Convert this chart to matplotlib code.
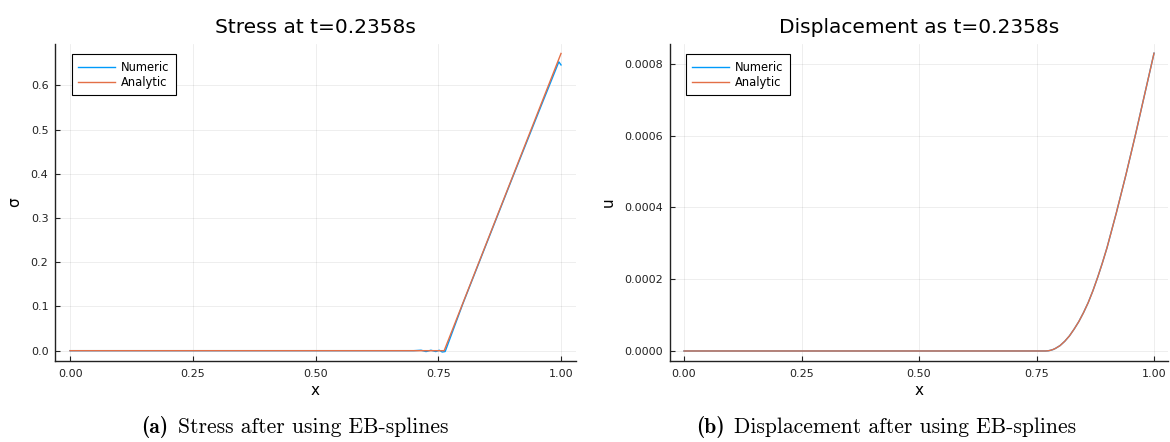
import matplotlib
matplotlib.use("Agg")
import matplotlib.pyplot as plt
from matplotlib.ticker import FixedLocator, FormatStrFormatter
from matplotlib.offsetbox import TextArea, HPacker, AnchoredOffsetbox

# stress profile at t = 0.2358 s
x_sigma_analytic = [0.0, 0.762, 1.0]
sigma_analytic = [0.0, 0.0, 0.672]
x_sigma_numeric = [0.0, 0.70, 0.715, 0.725, 0.735, 0.745, 0.752, 0.758, 0.764,
                   0.80, 0.90, 0.96, 0.98, 0.9955, 1.0]
sigma_numeric = [0.0, 0.0, 0.001, -0.002, 0.001, -0.002, 0.001, -0.003, -0.002,
                 0.106, 0.388, 0.555, 0.610, 0.653, 0.646]

# displacement profile at t = 0.2358 s
x_u = [0.0, 0.769, 0.775, 0.78, 0.785, 0.79, 0.80, 0.81, 0.82, 0.83, 0.84,
       0.85, 0.86, 0.87, 0.88, 0.89, 0.90, 0.92, 0.94, 0.96, 0.98, 1.00]
u_analytic = [0.0, 0.0, 0.6e-6, 2e-6, 4e-6, 7e-6, 1.5e-5, 2.7e-5, 4.2e-5,
              6.1e-5, 8.2e-5, 1.07e-4, 1.35e-4, 1.68e-4, 2.05e-4, 2.45e-4,
              2.88e-4, 3.86e-4, 4.9e-4, 6.0e-4, 7.15e-4, 8.3e-4]
u_numeric = [0.0, 0.0, 0.6e-6, 2e-6, 4e-6, 7e-6, 1.5e-5, 2.7e-5, 4.2e-5,
             6.1e-5, 8.2e-5, 1.07e-4, 1.35e-4, 1.68e-4, 2.05e-4, 2.45e-4,
             2.88e-4, 3.86e-4, 4.9e-4, 6.0e-4, 7.15e-4, 8.3e-4]

x_ticks = [0.0, 0.25, 0.5, 0.75, 1.0]
sigma_ticks = [0.0, 0.1, 0.2, 0.3, 0.4, 0.5, 0.6]
u_ticks = [0.0, 0.0002, 0.0004, 0.0006, 0.0008]

blue = "#009AFA"
orange = "#E36F47"

plt.rcParams['font.family'] = ['DejaVu Sans']

fig = plt.figure(figsize=(11.7, 4.42), dpi=100)
ax1 = fig.add_axes([0.0473, 0.184, 0.4448, 0.7158])
ax2 = fig.add_axes([0.5726, 0.184, 0.4258, 0.7158])


def style(ax, yticks, yfmt, ylabel, title, ylim):
    ax.set_xlim(-0.03, 1.03)
    ax.set_ylim(*ylim)
    ax.xaxis.set_major_locator(FixedLocator(x_ticks))
    ax.xaxis.set_major_formatter(FormatStrFormatter('%.2f'))
    ax.yaxis.set_major_locator(FixedLocator(yticks))
    ax.yaxis.set_major_formatter(FormatStrFormatter(yfmt))
    for s in ['top', 'right']:
        ax.spines[s].set_visible(False)
    for s in ['left', 'bottom']:
        ax.spines[s].set_color('#222222')
        ax.spines[s].set_linewidth(1.0)
    ax.tick_params(direction='in', length=3.5, width=0.8, color='#222222',
                   labelsize=8, labelcolor='#222222')
    ax.tick_params(axis='x', pad=6)
    ax.tick_params(axis='y', pad=5)
    ax.grid(True, color='black', alpha=0.08, linewidth=0.6)
    ax.set_axisbelow(True)
    ax.set_xlabel('x', fontsize=11, labelpad=3)
    ax.set_ylabel(ylabel, fontsize=11, labelpad=6)
    ax.set_title(title, fontsize=14.5, pad=8)
    leg = ax.legend(loc='upper left', bbox_to_anchor=(0.032, 0.968),
                    fontsize=8.3, fancybox=False, framealpha=1.0,
                    handlelength=3.2, handletextpad=0.5, borderpad=0.55,
                    labelspacing=0.2, borderaxespad=0)
    leg.get_frame().set_edgecolor('black')
    leg.get_frame().set_linewidth(0.8)


ax1.plot(x_sigma_numeric, sigma_numeric, color=blue, lw=1.0, label='Numeric')
ax1.plot(x_sigma_analytic, sigma_analytic, color=orange, lw=1.0, label='Analytic')
style(ax1, sigma_ticks, '%.1f', 'σ', 'Stress at t=0.2358s', (-0.0226, 0.6927))

ax2.plot(x_u, u_numeric, color=blue, lw=1.0, label='Numeric')
ax2.plot(x_u, u_analytic, color=orange, lw=1.0, label='Analytic')
style(ax2, u_ticks, '%.4f', 'u', 'Displacement as t=0.2358s', (-0.0000270, 0.0008548))


def caption(tag, text, xc, yc):
    bold = TextArea(tag, textprops=dict(family='cmb10', size=15.5))
    body = TextArea(text, textprops=dict(family='cmr10', size=15.5))
    box = HPacker(children=[bold, body], align='baseline', pad=0, sep=7)
    anchored = AnchoredOffsetbox(loc='center', child=box, frameon=False,
                                 pad=0, borderpad=0,
                                 bbox_to_anchor=(xc, yc),
                                 bbox_transform=fig.transFigure)
    fig.add_artist(anchored)


caption('(a)', 'Stress after using EB-splines', 295 / 1170, 1 - 427 / 442)
caption('(b)', 'Displacement after using EB-splines', 886 / 1170, 1 - 427 / 442)

fig.savefig('out.png', dpi=100)
